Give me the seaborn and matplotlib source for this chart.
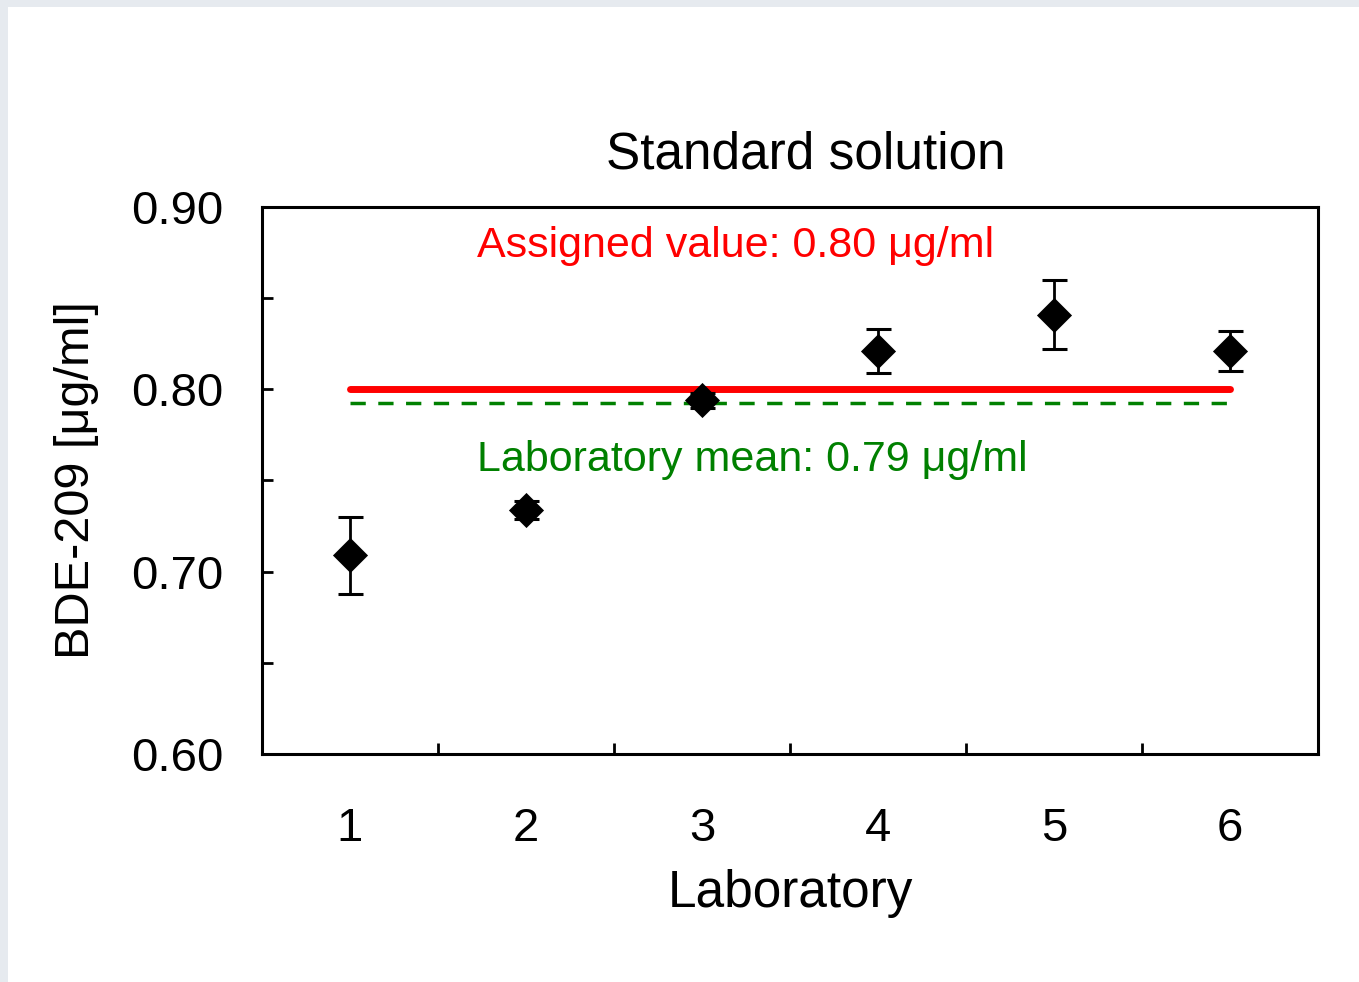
import numpy as np
import pandas as pd
import matplotlib.pyplot as plt
from matplotlib.patches import Rectangle
import seaborn as sns

# values
labs = [1, 2, 3, 4, 5, 6]
results = [0.709, 0.734, 0.794, 0.821, 0.841, 0.821]
errors = [0.021, 0.005, 0.004, 0.012, 0.019, 0.011]
assigned_value = 0.80
lab_mean = 0.7925
ytick_labels = ['0.60', '0.70', '0.80', '0.90']

sns.set_style('white')
plt.rcParams['font.family'] = ['Liberation Sans', 'DejaVu Sans']
plt.rcParams['text.color'] = 'black'
plt.rcParams['axes.labelcolor'] = 'black'
plt.rcParams['xtick.color'] = 'black'
plt.rcParams['ytick.color'] = 'black'

fig = plt.figure(figsize=(13.59, 9.82), dpi=100, facecolor='#e6eaef')
# white slide area with a thin grey border at top and left
fig.patches.append(Rectangle((8 / 1359, 0), 1, 1 - 7 / 982, transform=fig.transFigure,
                             facecolor='white', edgecolor='none', zorder=-10))
ax = fig.add_axes([262 / 1359, 1 - 754 / 982, (1318 - 262) / 1359, (754 - 207) / 982])
ax.set_facecolor('white')

df = pd.DataFrame({'lab': labs, 'result': results, 'err': errors})
ref = pd.DataFrame({'lab': [labs[0], labs[-1]]})

# reference lines
sns.lineplot(x=ref['lab'], y=[assigned_value] * 2, color='#ff0000', lw=5, ax=ax, zorder=2)
sns.lineplot(x=ref['lab'], y=[lab_mean] * 2, color='#008000', lw=2.5, ax=ax,
             dashes=False, zorder=2).lines[-1].set_dashes((4.4, 3.6))

# error bars and diamonds
ax.errorbar(df['lab'], df['result'], yerr=df['err'], fmt='none', ecolor='black',
            elinewidth=2, capsize=9, capthick=2.2, zorder=3)
sns.scatterplot(data=df, x='lab', y='result', marker='D', s=320, color='black',
                edgecolor='black', linewidth=0, ax=ax, zorder=4)

ax.text(1.72, 0.8785, 'Assigned value: 0.80 μg/ml', color='#ff0000', fontsize=31,
        va='center', ha='left')
ax.text(1.72, 0.761, 'Laboratory mean: 0.79 μg/ml', color='#008000', fontsize=31,
        va='center', ha='left')

ax.set_xlim(0.5, 6.5)
ax.set_ylim(0.60, 0.90)
ax.set_yticks([0.60, 0.70, 0.80, 0.90])
ax.set_yticklabels(ytick_labels)
ax.set_yticks([0.65, 0.75, 0.85], minor=True)
ax.set_xticks(labs)
ax.set_xticklabels([str(l) for l in labs])
ax.set_xticks([1.5, 2.5, 3.5, 4.5, 5.5], minor=True)

ax.tick_params(axis='x', which='major', length=0, pad=38, labelsize=34)
ax.tick_params(axis='x', which='minor', direction='in', length=8, width=2, bottom=True)
ax.tick_params(axis='y', which='major', direction='in', length=8, width=2, left=True,
               pad=28, labelsize=34)
ax.tick_params(axis='y', which='minor', direction='in', length=8, width=2, left=True)

for sp in ax.spines.values():
    sp.set_color('black')
    sp.set_linewidth(2.2)

ax.set_xlabel('Laboratory', fontsize=37, labelpad=13)
ax.set_ylabel('BDE-209 [μg/ml]', fontsize=35, labelpad=23)
ax.set_title('Standard solution', fontsize=37, x=0.515, pad=28)

fig.savefig('out.png', dpi=100, facecolor=fig.get_facecolor())
